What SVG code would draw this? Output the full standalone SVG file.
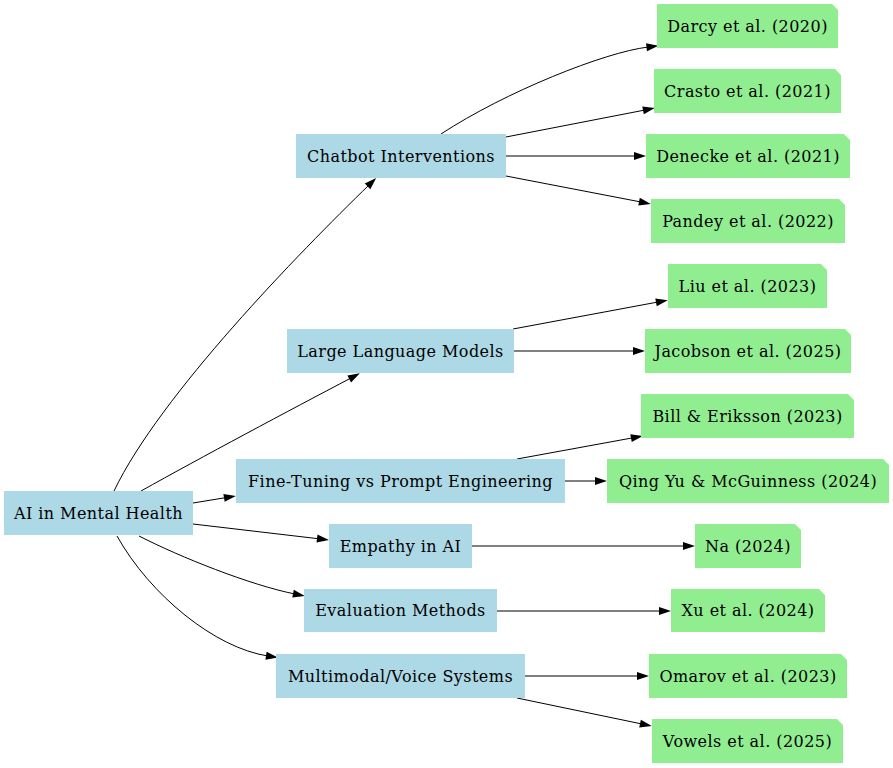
<svg xmlns="http://www.w3.org/2000/svg" width="893" height="768" viewBox="0 0 893 768">
  <style>
    .topic rect { fill: #add8e6; }
    .ref polygon { fill: #90ee90; }
    text { font-family: "DejaVu Serif", "Liberation Serif", serif; font-size: 16px; letter-spacing: 0.45px; fill: #000; text-anchor: middle; }
    #edges path { fill: none; stroke: #000; stroke-width: 1; marker-end: url(#arrow); }
  </style>
  <defs>
    <marker id="arrow" markerUnits="userSpaceOnUse" markerWidth="14" markerHeight="10" refX="2" refY="0" viewBox="0 -5 14 10" orient="auto" overflow="visible">
      <path d="M0,-4 L12,0 L0,4 z" fill="#000"/>
    </marker>
  </defs>
  <rect width="893" height="768" fill="#fff"/>

  <!-- connectors -->
  <g id="edges">
    <path d="M114,491 C160,395 300,252 369,185"/>
    <path d="M141,491 C200,458 290,410 351,378"/>
    <path d="M193,503 L226,497.6"/>
    <path d="M193,524 L319,538.8"/>
    <path d="M139,536 C180,557 250,585 295,594"/>
    <path d="M117,536 C150,595 215,648 268,656"/>
    <path d="M441,134 C505,92 605,52 648.5,47"/>
    <path d="M506,137 L645,110"/>
    <path d="M506,156 L636,156"/>
    <path d="M506,176 L641,202"/>
    <path d="M513,329 L658,302"/>
    <path d="M514,351 L635,351"/>
    <path d="M517,459 L633,437.8"/>
    <path d="M565,481 L597,481"/>
    <path d="M472,546 L685,546"/>
    <path d="M497,611 L661,611"/>
    <path d="M525,676 L639,676"/>
    <path d="M517,698 L642,724"/>
  </g>

  <!-- topic nodes -->
  <g id="ai_mental_health" class="topic"><rect x="4" y="491" width="189" height="44"/><text x="98.5" y="518.5">AI in Mental Health</text></g>
  <g id="chatbot" class="topic"><rect x="296" y="134" width="210" height="44"/><text x="401" y="161.5">Chatbot Interventions</text></g>
  <g id="llm" class="topic"><rect x="287" y="329" width="227" height="44"/><text x="400.5" y="356.5">Large Language Models</text></g>
  <g id="finetuning" class="topic"><rect x="236" y="459" width="329" height="44"/><text x="400.5" y="486.5">Fine-Tuning vs Prompt Engineering</text></g>
  <g id="empathy" class="topic"><rect x="329" y="524" width="143" height="44"/><text x="400.5" y="551.5">Empathy in AI</text></g>
  <g id="evaluation" class="topic"><rect x="304" y="589" width="193" height="43"/><text x="400.5" y="616">Evaluation Methods</text></g>
  <g id="multimodal" class="topic"><rect x="276" y="654" width="249" height="44"/><text x="400.5" y="681.5">Multimodal/Voice Systems</text></g>

  <!-- reference notes -->
  <g id="darcy" class="ref"><polygon points="657,4 832,4 838,10 838,48 657,48"/><text x="747.5" y="31.5">Darcy et al. (2020)</text></g>
  <g id="crasto" class="ref"><polygon points="654,69 835,69 841,75 841,113 654,113"/><text x="747.5" y="96.5">Crasto et al. (2021)</text></g>
  <g id="denecke" class="ref"><polygon points="646,134 844,134 850,140 850,178 646,178"/><text x="748" y="161.5">Denecke et al. (2021)</text></g>
  <g id="pandey" class="ref"><polygon points="651,199 839,199 845,205 845,243 651,243"/><text x="748" y="226.5">Pandey et al. (2022)</text></g>
  <g id="liu" class="ref"><polygon points="668,264 821,264 827,270 827,308 668,308"/><text x="747.5" y="291.5">Liu et al. (2023)</text></g>
  <g id="jacobson" class="ref"><polygon points="645,329 845,329 851,335 851,373 645,373"/><text x="748" y="356.5">Jacobson et al. (2025)</text></g>
  <g id="bill" class="ref"><polygon points="641,394 848,394 854,400 854,438 641,438"/><text x="747.5" y="421.5">Bill &amp; Eriksson (2023)</text></g>
  <g id="qingyu" class="ref"><polygon points="607,459 883,459 889,465 889,503 607,503"/><text x="748" y="486.5">Qing Yu &amp; McGuinness (2024)</text></g>
  <g id="na" class="ref"><polygon points="695,524 795,524 801,530 801,568 695,568"/><text x="748" y="551.5">Na (2024)</text></g>
  <g id="xu" class="ref"><polygon points="671,589 819,589 825,595 825,632 671,632"/><text x="748" y="616">Xu et al. (2024)</text></g>
  <g id="omarov" class="ref"><polygon points="649,654 841,654 847,660 847,698 649,698"/><text x="748" y="681.5">Omarov et al. (2023)</text></g>
  <g id="vowels" class="ref"><polygon points="652,719 837,719 843,725 843,763 652,763"/><text x="747.5" y="746.5">Vowels et al. (2025)</text></g>
</svg>
